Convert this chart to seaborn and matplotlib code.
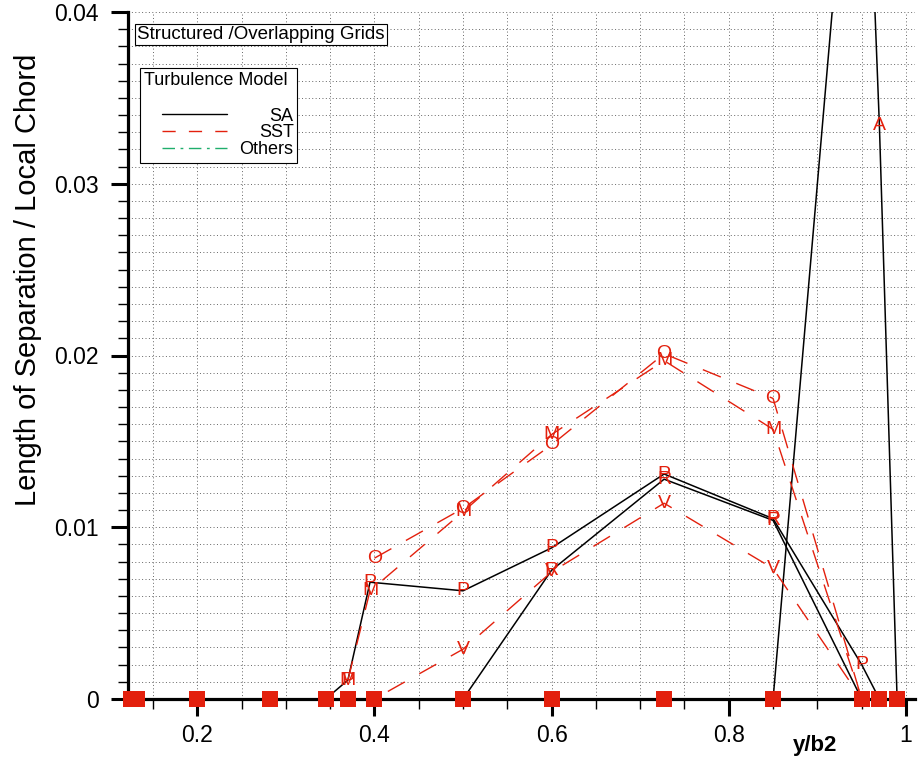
import numpy as np
import pandas as pd
import matplotlib
matplotlib.use("Agg")
import matplotlib.pyplot as plt
import seaborn as sns
from matplotlib.ticker import MultipleLocator, FixedLocator
from matplotlib.offsetbox import AnchoredOffsetbox, VPacker, HPacker, TextArea, DrawingArea
from matplotlib.lines import Line2D

sns.set_theme(style="white")
plt.rcParams["font.family"] = ["Liberation Sans", "DejaVu Sans"]

RED = "#e3200d"
GREEN = "#1fae6c"

# ---------------- data ----------------
sa1_x = [0.125, 0.2, 0.282, 0.345, 0.37, 0.395, 0.5, 0.6, 0.727, 0.85, 0.95, 0.97]
sa1_y = [0, 0, 0, 0, 0.0011, 0.0068, 0.0063, 0.0088, 0.0131, 0.0105, 0.0020, 0]

sa2_x = [0.125, 0.2, 0.282, 0.345, 0.37, 0.4, 0.5, 0.6, 0.727, 0.85, 0.95]
sa2_y = [0, 0, 0, 0, 0, 0, 0, 0.0075, 0.0128, 0.0104, 0]

sa3_x = [0.125, 0.2, 0.282, 0.345, 0.37, 0.4, 0.5, 0.6, 0.727, 0.85, 0.95, 0.97, 0.99]
sa3_y = [0, 0, 0, 0, 0, 0, 0, 0, 0, 0, 0.0600, 0.0334, 0]

sst_o_x = [0.4, 0.5, 0.6, 0.727, 0.85, 0.95]
sst_o_y = [0.0082, 0.0111, 0.0148, 0.0201, 0.0175, 0]

sst_m_x = [0.37, 0.395, 0.5, 0.6, 0.727, 0.85, 0.95]
sst_m_y = [0.0011, 0.0063, 0.0109, 0.0154, 0.0197, 0.0157, 0]

sst_v_x = [0.132, 0.2, 0.282, 0.345, 0.37, 0.4, 0.5, 0.6, 0.727, 0.85, 0.95]
sst_v_y = [0, 0, 0, 0, 0, 0, 0.0029, 0.0074, 0.0114, 0.0076, 0]

series = [
    ("SA", "P", sa1_x, sa1_y),
    ("SA", "R", sa2_x, sa2_y),
    ("SA", "A", sa3_x, sa3_y),
    ("SST", "O", sst_o_x, sst_o_y),
    ("SST", "M", sst_m_x, sst_m_y),
    ("SST", "V", sst_v_x, sst_v_y),
]

x_ticks = [0.2, 0.4, 0.6, 0.8, 1.0]
x_ticklabels = ["0.2", "0.4", "0.6", "0.8", "1"]
y_ticks = [0, 0.01, 0.02, 0.03, 0.04]
y_ticklabels = ["0", "0.01", "0.02", "0.03", "0.04"]

legend_labels = ["SA", "SST", "Others"]

Y_MAX = 0.04

# ---------------- figure ----------------
fig = plt.figure(figsize=(9.2, 7.59), dpi=100)
ax = fig.add_axes([128 / 920, 1 - 699 / 759, (915 - 128) / 920, (699 - 12) / 759])

model_style = {
    "SA": dict(color="black", dashes=None, lw=1.1),
    "SST": dict(color=RED, dashes=(14, 12), lw=1.0),
}

rows = []
for model, letter, xs, ys in series:
    for x, y in zip(xs, ys):
        rows.append(dict(model=model, letter=letter, sid=f"{model}-{letter}", x=x, y=y))
df = pd.DataFrame(rows)

for sid, g in df.groupby("sid", sort=False):
    model = g["model"].iloc[0]
    st = model_style[model]
    sns.lineplot(data=g, x="x", y="y", color=st["color"], lw=st["lw"],
                 estimator=None, sort=False, ax=ax, legend=False)
    ln = ax.lines[-1]
    if st["dashes"] is not None:
        ln.set_dashes(st["dashes"])
    ln.set_zorder(2)

# letter symbols for non-zero points inside the visible range
nz = df[(df["y"] > 0) & (df["y"] <= Y_MAX)]
for _, r in nz.iterrows():
    ax.text(r["x"], r["y"], r["letter"], color=RED, fontsize=14,
            ha="center", va="center", clip_on=True, zorder=3)

# filled squares at zero points
zr = df[df["y"] == 0].drop_duplicates(subset=["x"])
sns.scatterplot(data=zr, x="x", y="y", marker="s", s=120, color=RED,
                edgecolor=RED, linewidth=0, ax=ax, legend=False, zorder=5)
ax.collections[-1].set_clip_on(False)

# ---------------- axes ----------------
ax.set_xlim(0.1218, 1.0102)
ax.set_ylim(0, Y_MAX)
ax.xaxis.set_major_locator(FixedLocator(x_ticks))
ax.set_xticklabels(x_ticklabels)
ax.xaxis.set_minor_locator(MultipleLocator(0.05))
ax.yaxis.set_major_locator(FixedLocator(y_ticks))
ax.set_yticklabels(y_ticklabels)
ax.yaxis.set_minor_locator(MultipleLocator(0.001))

ax.grid(False)
ax.grid(which="both", color="0.4", linestyle=(0, (1, 2.5)), lw=0.7)
ax.set_axisbelow(True)

for s in ["top", "right"]:
    ax.spines[s].set_visible(False)
for s in ["left", "bottom"]:
    ax.spines[s].set_linewidth(2.3)
    ax.spines[s].set_color("black")
    ax.spines[s].set_zorder(4)

ax.tick_params(which="major", direction="out", length=12, width=2.2,
               color="black", labelsize=16.5, labelcolor="black")
ax.tick_params(which="minor", direction="out", length=7, width=1.0, color="black")
ax.tick_params(axis="x", which="major", pad=6, bottom=True)
ax.tick_params(axis="x", which="minor", bottom=True)
ax.tick_params(axis="y", which="major", pad=9, left=True)
ax.tick_params(axis="y", which="minor", left=True)

ax.set_xlabel("y/b2", fontsize=16, fontweight="bold", color="black")
ax.xaxis.set_label_coords(0.873, -0.053)
ax.set_ylabel("Length of Separation / Local Chord", fontsize=21, color="black")
ax.yaxis.set_label_coords(-0.109, 0.61)

# title box
ax.text(0.0114, 0.9796, "Structured /Overlapping Grids", transform=ax.transAxes,
        fontsize=13.5, ha="left", va="top", color="black", zorder=6,
        bbox=dict(boxstyle="square,pad=0.12", fc="white", ec="black", lw=0.8))

# legend
def make_handle(color, dashes):
    da = DrawingArea(47, 12.2, 0, 0)
    ln = Line2D([0, 47], [8, 8], color=color, lw=1.0)
    if dashes is not None:
        ln.set_dashes(dashes)
    da.add_artist(ln)
    return da

handle_styles = [("black", None), (RED, (9.5, 9.5)), (GREEN, (9, 4, 2, 4))]
handles = [make_handle(c, d) for c, d in handle_styles]
labels = [TextArea(l, textprops=dict(fontsize=13, color="black")) for l in legend_labels]
hcol = VPacker(children=handles, sep=0, align="left", pad=0)
lcol = VPacker(children=labels, sep=-0.6, align="right", pad=0)
spacer = DrawingArea(4, 5, 0, 0)
body = HPacker(children=[spacer, hcol, lcol], sep=9, align="top", pad=0)
title = TextArea("Turbulence Model", textprops=dict(fontsize=13, color="black"))
box = VPacker(children=[title, body], sep=14, align="left", pad=0)
anch = AnchoredOffsetbox(loc="upper left", child=box, pad=0.25, borderpad=0,
                         frameon=True, bbox_to_anchor=(0.0152, 0.9185),
                         bbox_transform=ax.transAxes)
anch.patch.set_boxstyle("square", pad=0)
anch.patch.set_edgecolor("black")
anch.patch.set_linewidth(0.8)
anch.set_zorder(6)
ax.add_artist(anch)

fig.savefig("out.png", dpi=100)
